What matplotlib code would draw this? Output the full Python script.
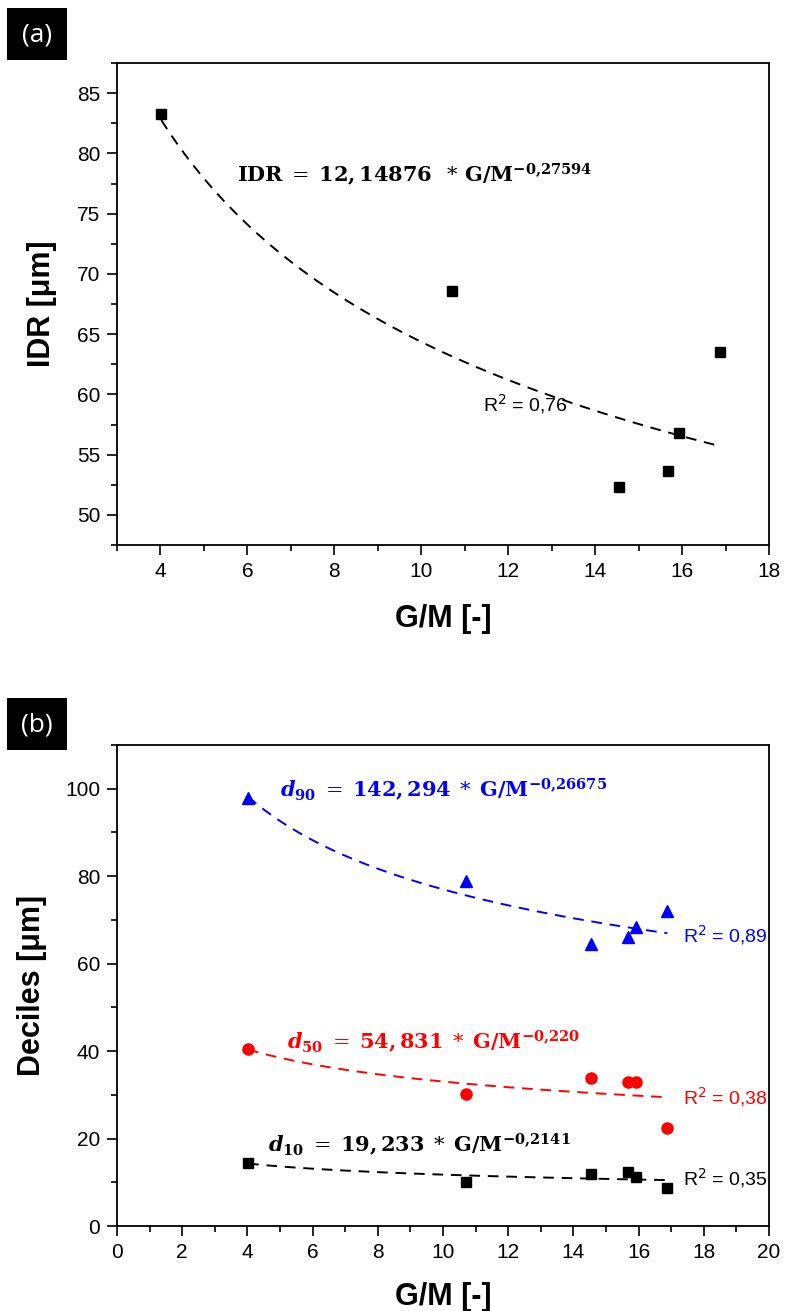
import matplotlib
matplotlib.use('Agg')
import matplotlib.pyplot as plt
from matplotlib.patches import Rectangle
from matplotlib.ticker import MultipleLocator
import numpy as np

plt.rcParams['font.family'] = ['Liberation Sans', 'DejaVu Sans']
plt.rcParams['mathtext.fontset'] = 'dejavuserif'

# G/M ratio of the six samples
gm = [4.02, 10.7, 14.55, 15.67, 15.92, 16.88]

# panel (a) IDR values
idr = [83.3, 68.6, 52.3, 53.6, 56.8, 63.5]
# fit y = a * x^b (printed coefficient reads 12,14876)
idr_fit = (121.4876, -0.27594)

# panel (b) deciles
d90 = [97.9, 79.0, 64.5, 66.2, 68.3, 72.1]
d50 = [40.4, 30.2, 33.8, 32.9, 32.9, 22.3]
d10 = [14.4, 10.0, 11.8, 12.3, 11.3, 8.6]
d90_fit = (142.294, -0.26675)
d50_fit = (54.831, -0.220)
d10_fit = (19.233, -0.2141)

W, H = 785, 1311
fig = plt.figure(figsize=(W / 100, H / 100), dpi=100)


def px_axes(left, top, right, bottom):
    return fig.add_axes([left / W, 1 - bottom / H, (right - left) / W, (bottom - top) / H])


def style(ax):
    for sp in ax.spines.values():
        sp.set_linewidth(1.3)
    ax.tick_params(which='major', direction='out', length=7, width=1.2,
                   labelsize=15, pad=5, top=False, right=False)
    ax.tick_params(which='minor', direction='out', length=4, width=1.2,
                   top=False, right=False)


def panel_tag(top, label):
    fig.add_artist(Rectangle((7 / W, 1 - (top + 52) / H), 60 / W, 52 / H,
                             transform=fig.transFigure, facecolor='black',
                             edgecolor='none'))
    fig.text(37 / W, 1 - (top + 27) / H, label, color='white', fontsize=19,
             ha='center', va='center', family=['Open Sans', 'DejaVu Sans'])


fit_x = np.linspace(gm[0], gm[-1], 100)
dash_kw = dict(lw=1.4, dashes=(5.5, 4))

# ---- panel (a)
ax1 = px_axes(117, 63, 769, 545)
ax1.plot(fit_x, idr_fit[0] * fit_x ** idr_fit[1], color='black', **dash_kw)
ax1.plot(gm, idr, 's', color='black', ms=7.5, ls='none')
ax1.set_xlim(3, 18)
ax1.set_ylim(47.5, 87.5)
ax1.xaxis.set_major_locator(MultipleLocator(2))
ax1.xaxis.set_minor_locator(MultipleLocator(1))
ax1.yaxis.set_major_locator(MultipleLocator(5))
ax1.yaxis.set_minor_locator(MultipleLocator(2.5))
style(ax1)
ax1.set_xticks([4, 6, 8, 10, 12, 14, 16, 18])
ax1.set_xlabel('G/M [-]', fontsize=22, fontweight='bold')
ax1.set_ylabel('IDR [\u03bcm]', fontsize=22, fontweight='bold')
ax1.xaxis.set_label_coords(0.5, -0.122)
ax1.yaxis.set_label_coords(-0.092, 0.5)
ax1.text(5.76, 77.6,
         r'$\mathbf{IDR}\;=\;\mathbf{12,14876}\;\;*\,\mathbf{G/M}^{\mathbf{-0{,}27594}}$',
         fontsize=15, ha='left', va='baseline', color='black')
ax1.text(11.41, 58.6, r'R$^2$ = 0,76', fontsize=14, ha='left', va='baseline',
         math_fontfamily='dejavusans')
panel_tag(8, '(a)')

# ---- panel (b)
ax2 = px_axes(117, 745, 769, 1226)
series = [
    (d90, d90_fit, 'blue', '^', 9, '90', '142,294', '0{,}26675', (5.0, 98.2), '0,89', 64.8),
    (d50, d50_fit, 'red', 'o', 8, '50', '54,831', '0{,}220', (5.21, 40.5), '0,38', 27.9),
    (d10, d10_fit, 'black', 's', 7, '10', '19,233', '0{,}2141', (4.63, 16.9), '0,35', 9.4),
]
for vals, fit, col, mk, ms, sub, coef, expo, pos, r2, r2y in series:
    ax2.plot(fit_x, fit[0] * fit_x ** fit[1], color=col, **dash_kw)
    ax2.plot(gm, vals, mk, color=col, ms=ms, ls='none')
    ax2.text(pos[0], pos[1],
             r'$\mathbfit{d}_{\mathbf{' + sub + r'}}\;=\;\mathbf{' + coef
             + r'}\;*\;\mathbf{G/M}^{\mathbf{-' + expo + r'}}$',
             fontsize=15, color=col, ha='left', va='baseline')
    ax2.text(17.36, r2y, r'R$^2$ = ' + r2, fontsize=14, color=col,
             ha='left', va='baseline', math_fontfamily='dejavusans')
ax2.set_xlim(0, 20)
ax2.set_ylim(0, 110)
ax2.xaxis.set_major_locator(MultipleLocator(2))
ax2.xaxis.set_minor_locator(MultipleLocator(1))
ax2.yaxis.set_major_locator(MultipleLocator(20))
ax2.yaxis.set_minor_locator(MultipleLocator(10))
style(ax2)
ax2.set_xlabel('G/M [-]', fontsize=22, fontweight='bold')
ax2.set_ylabel('Deciles [\u03bcm]', fontsize=22, fontweight='bold')
ax2.xaxis.set_label_coords(0.5, -0.117)
ax2.yaxis.set_label_coords(-0.108, 0.5)
panel_tag(698, '(b)')

fig.savefig('out.png', dpi=100)
